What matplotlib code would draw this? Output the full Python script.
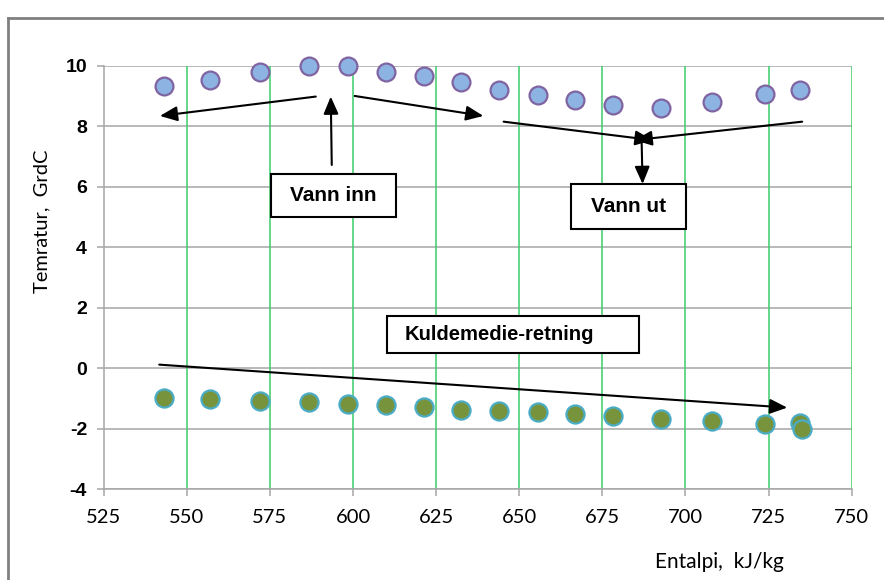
import matplotlib
matplotlib.use("Agg")
import matplotlib.pyplot as plt
from matplotlib.patches import Rectangle
from matplotlib.lines import Line2D

plt.rcParams["axes.unicode_minus"] = False

# ---- data ----
entalpi_vann = [543.2, 557.1, 572.0, 586.8, 598.5, 609.8, 621.2, 632.5,
                644.0, 655.5, 666.9, 678.2, 692.7, 708.1, 723.9, 734.5]
temp_vann = [9.33, 9.53, 9.78, 9.99, 9.99, 9.79, 9.66, 9.45,
             9.20, 9.03, 8.87, 8.70, 8.59, 8.79, 9.06, 9.20]

entalpi_kd = [543.2, 557.1, 572.0, 586.8, 598.5, 609.8, 621.2, 632.5,
              644.0, 655.5, 666.9, 678.2, 692.7, 708.1, 723.9, 734.5, 735.0]
temp_kd = [-0.97, -1.00, -1.08, -1.11, -1.19, -1.22, -1.29, -1.38,
           -1.41, -1.44, -1.50, -1.58, -1.67, -1.74, -1.85, -1.82, -2.01]

x_ticks = [525, 550, 575, 600, 625, 650, 675, 700, 725, 750]
y_ticks = [-4, -2, 0, 2, 4, 6, 8, 10]

BOLD = ["Liberation Sans", "DejaVu Sans"]
CAL = ["Lato", "DejaVu Sans"]

fig = plt.figure(figsize=(8.84, 5.8), dpi=100)
fig.patch.set_facecolor("white")
W, H = 884, 580

# outer chart border (left and top visible)
fig.add_artist(Line2D([8 / W, 8 / W], [0, 1 - 18 / H], transform=fig.transFigure,
                      color="#808080", lw=2))
fig.add_artist(Line2D([8 / W, 1.0], [1 - 18 / H, 1 - 18 / H], transform=fig.transFigure,
                      color="#808080", lw=2))

ax = fig.add_axes([103.7 / W, 1 - 489.3 / H, (851.7 - 103.7) / W, (489.3 - 65.7) / H])
ax.set_xlim(525, 750)
ax.set_ylim(-4, 10)

# grid
for yv in y_ticks:
    ax.axhline(yv, color="#A6A6A6", lw=1.1, zorder=1)
for xv in x_ticks[1:]:
    ax.axvline(xv, color="#3CCB6A", lw=1.1, zorder=1)

for s in ["top", "right"]:
    ax.spines[s].set_visible(False)
for s in ["left", "bottom"]:
    ax.spines[s].set_color("#A6A6A6")
    ax.spines[s].set_linewidth(1.1)

ax.set_xticks(x_ticks)
ax.set_yticks(y_ticks)
ax.tick_params(axis="both", direction="out", length=5, width=1.1, color="#A6A6A6")
ax.tick_params(axis="x", pad=9)
ax.tick_params(axis="y", pad=7)
for lab in ax.get_yticklabels():
    lab.set_family(BOLD)
    lab.set_fontweight("bold")
    lab.set_fontsize(14)
for lab in ax.get_xticklabels():
    lab.set_family(CAL)
    lab.set_fontsize(14.5)

# series
ax.scatter(entalpi_vann, temp_vann, s=165, facecolor="#8DB3E2", edgecolor="#8064A2",
           linewidth=1.6, zorder=4, clip_on=False)
ax.scatter(entalpi_kd, temp_kd, s=170, facecolor="#77933C", edgecolor="#4BACC6",
           linewidth=1.6, zorder=4, clip_on=False)

# labels
fig.text(41.7 / W, 1 - 221 / H, "Temratur,  GrdC", rotation=90, ha="center", va="center",
         family=CAL, fontsize=14.5)
fig.text(719 / W, 1 - 561.7 / H, "Entalpi,  kJ/kg", ha="center", va="center",
         family=CAL, fontsize=15)

# annotations
arrow_kw = dict(arrowstyle="-|>,head_length=0.7,head_width=0.3", color="black",
                lw=1.5, mutation_scale=15, shrinkA=0, shrinkB=0)

def arrow(x0, y0, x1, y1):
    ax.annotate("", xy=(x1, y1), xytext=(x0, y0), arrowprops=arrow_kw, zorder=6)

def box(x0, y0, x1, y1):
    ax.add_patch(Rectangle((x0, y0), x1 - x0, y1 - y0, facecolor="white",
                           edgecolor="black", lw=1.5, zorder=5))

# Vann inn
box(575.2, 5.01, 612.8, 6.42)
ax.text(594.0, 5.72, "Vann inn", ha="center", va="center", family=BOLD,
        fontweight="bold", fontsize=15, zorder=7)
arrow(593.6, 6.72, 593.3, 8.98)
arrow(588.8, 8.98, 541.9, 8.34)
arrow(600.5, 9.00, 639.2, 8.34)

# Vann ut
arrow(645.3, 8.15, 690.1, 7.54)
arrow(735.1, 8.15, 684.7, 7.54)
arrow(686.8, 7.54, 687.1, 6.09)
box(665.7, 4.60, 700.2, 6.09)
ax.text(682.9, 5.35, "Vann ut", ha="center", va="center", family=BOLD,
        fontweight="bold", fontsize=15, zorder=7)

# Kuldemedie-retning
box(610.1, 0.50, 686.1, 1.74)
ax.text(615.5, 1.12, "Kuldemedie-retning", ha="left", va="center", family=BOLD,
        fontweight="bold", fontsize=14.6, zorder=7)
arrow(541.7, 0.12, 730.6, -1.30)

fig.savefig("out.png", dpi=100)
